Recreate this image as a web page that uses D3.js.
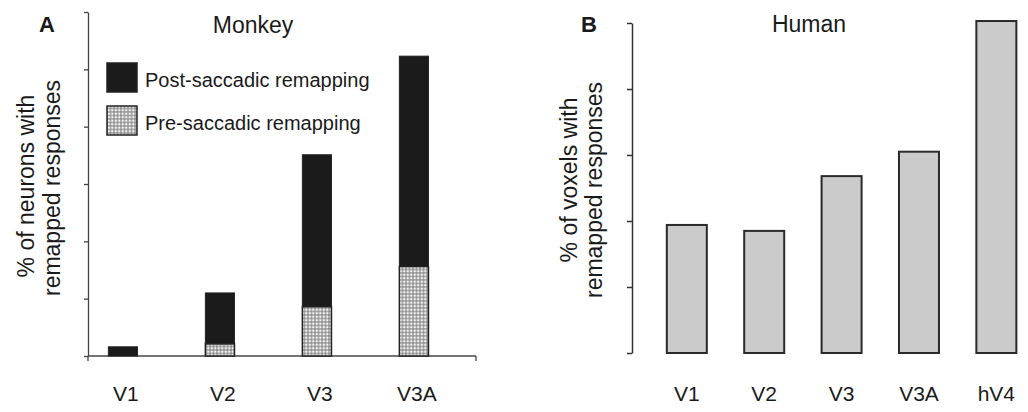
<!DOCTYPE html>
<html>
<head>
<meta charset="utf-8">
<script src="https://cdn.jsdelivr.net/npm/d3@7"></script>
<style>
  body { margin: 0; background: #fff; }
  text { font-family: "Liberation Sans", Arial, sans-serif; fill: #1a1a1a; }
</style>
</head>
<body>
<div id="chart"></div>
<script>
// panel A data (monkey), stacked
const monkeyAreas = ["V1", "V2", "V3", "V3A"];
const monkeyPre = [0, 2.1, 8.6, 15.6];
const monkeyPost = [1.6, 8.9, 26.5, 36.7];
const monkeyTicks = [0, 10, 20, 30, 40, 50, 60];
const legendLabels = ["Post-saccadic remapping", "Pre-saccadic remapping"];

// panel B data (human)
const humanAreas = ["V1", "V2", "V3", "V3A", "hV4"];
const humanValues = [19.4, 18.5, 26.8, 30.5, 50.3];
const humanTicks = [0, 10, 20, 30, 40, 50];

const svg = d3.select("#chart")
  .append("svg")
  .attr("width", 1028)
  .attr("height", 412);

// stipple pattern for the pre-saccadic part
const defs = svg.append("defs");
const pat = defs.append("pattern")
  .attr("id", "stipple")
  .attr("patternUnits", "userSpaceOnUse")
  .attr("width", 3.5)
  .attr("height", 3.5);
pat.append("rect").attr("width", 3.5).attr("height", 3.5).attr("fill", "#8f8f8f");
pat.append("circle").attr("cx", 1.75).attr("cy", 1.75).attr("r", 1.3).attr("fill", "#f2f2f2");

const axisColor = "#444";

// ---------- A: Monkey ----------
const yA = d3.scaleLinear().domain([0, 60]).range([356, 12]);
const xA = d3.scaleBand()
  .domain(monkeyAreas)
  .range([88, 476])
  .paddingInner(0.7)
  .paddingOuter(0.35)
  .align(0.3);

const gA = svg.append("g");

const axA = gA.append("g")
  .attr("transform", "translate(88,0)")
  .call(d3.axisLeft(yA).tickValues(monkeyTicks).tickFormat("").tickSize(4).tickSizeOuter(0));
axA.select(".domain").attr("stroke", axisColor).attr("stroke-width", 1.3);
axA.selectAll(".tick line").attr("stroke", axisColor).attr("stroke-width", 1.3);

// baseline with small end ticks
gA.append("line")
  .attr("x1", 88).attr("x2", 476)
  .attr("y1", yA(0)).attr("y2", yA(0))
  .attr("stroke", axisColor).attr("stroke-width", 1.5);
gA.append("line")
  .attr("x1", 88).attr("x2", 88)
  .attr("y1", yA(0)).attr("y2", yA(0) + 5)
  .attr("stroke", axisColor).attr("stroke-width", 1.3);
gA.append("line")
  .attr("x1", 476).attr("x2", 476)
  .attr("y1", yA(0)).attr("y2", yA(0) + 5)
  .attr("stroke", axisColor).attr("stroke-width", 1.3);

const xAxA = gA.append("g")
  .attr("transform", `translate(3,${yA(0)})`)
  .call(d3.axisBottom(xA).tickSize(0).tickPadding(30));
xAxA.select(".domain").remove();
xAxA.selectAll("text")
  .attr("font-size", "21px")
  .style("font-family", "'Liberation Sans', Arial, sans-serif")
  .attr("fill", "#1a1a1a");

monkeyAreas.forEach((area, i) => {
  const pre = monkeyPre[i];
  const post = monkeyPost[i];
  // post-saccadic (top, black)
  gA.append("rect")
    .attr("x", xA(area))
    .attr("y", yA(pre + post))
    .attr("width", xA.bandwidth())
    .attr("height", yA(pre) - yA(pre + post))
    .attr("fill", "#1b1b1b")
    .attr("stroke", "#222")
    .attr("stroke-width", 1);
  // pre-saccadic (bottom, stippled)
  if (pre > 0) {
    gA.append("rect")
      .attr("x", xA(area))
      .attr("y", yA(pre))
      .attr("width", xA.bandwidth())
      .attr("height", yA(0) - yA(pre))
      .attr("fill", "url(#stipple)")
      .attr("stroke", "#222")
      .attr("stroke-width", 1.5);
  }
});

// legend
const legend = gA.append("g").attr("transform", "translate(107,63)");
legendLabels.forEach((label, i) => {
  legend.append("rect")
    .attr("x", 0)
    .attr("y", i * 43)
    .attr("width", 30)
    .attr("height", 29)
    .attr("fill", i === 0 ? "#1b1b1b" : "url(#stipple)")
    .attr("stroke", "#222")
    .attr("stroke-width", 1.5);
  legend.append("text")
    .attr("x", 38)
    .attr("y", i * 43 + 24)
    .attr("font-size", "20px")
    .text(label);
});

gA.append("text")
  .attr("x", 39).attr("y", 32)
  .attr("font-size", "22px")
  .attr("font-weight", "bold")
  .text("A");

gA.append("text")
  .attr("x", 253).attr("y", 33)
  .attr("text-anchor", "middle")
  .attr("font-size", "23px")
  .text("Monkey");

gA.append("text")
  .attr("transform", "rotate(-90)")
  .attr("x", -186).attr("y", 34)
  .attr("text-anchor", "middle")
  .attr("font-size", "23px")
  .text("% of neurons with");
gA.append("text")
  .attr("transform", "rotate(-90)")
  .attr("x", -188).attr("y", 60)
  .attr("text-anchor", "middle")
  .attr("font-size", "23px")
  .text("remapped responses");

// ---------- B: Human ----------
const yB = d3.scaleLinear().domain([0, 50]).range([353, 23]);
const xB = d3.scaleBand()
  .domain(humanAreas)
  .range([632, 1032])
  .paddingInner(0.483)
  .paddingOuter(0.326)
  .align(0.69);

const gB = svg.append("g");

const axB = gB.append("g")
  .attr("transform", "translate(632,0)")
  .call(d3.axisLeft(yB).tickValues(humanTicks).tickFormat("").tickSize(5).tickSizeOuter(0));
axB.select(".domain").attr("stroke", "#333").attr("stroke-width", 1.5);
axB.selectAll(".tick line").attr("stroke", "#333").attr("stroke-width", 1.5);

const xAxB = gB.append("g")
  .attr("transform", `translate(0,${yB(0)})`)
  .call(d3.axisBottom(xB).tickSize(0).tickPadding(33));
xAxB.select(".domain").remove();
xAxB.selectAll("text")
  .attr("font-size", "21px")
  .style("font-family", "'Liberation Sans', Arial, sans-serif")
  .attr("fill", "#1a1a1a");

gB.selectAll("rect.bar")
  .data(humanAreas)
  .enter()
  .append("rect")
  .attr("class", "bar")
  .attr("x", d => xB(d))
  .attr("y", (d, i) => yB(humanValues[i]))
  .attr("width", xB.bandwidth())
  .attr("height", (d, i) => yB(0) - yB(humanValues[i]))
  .attr("fill", "#cbcbcb")
  .attr("stroke", "#2a2a2a")
  .attr("stroke-width", 2);

gB.append("text")
  .attr("x", 581).attr("y", 32)
  .attr("font-size", "22px")
  .attr("font-weight", "bold")
  .text("B");

gB.append("text")
  .attr("x", 809).attr("y", 32)
  .attr("text-anchor", "middle")
  .attr("font-size", "23px")
  .text("Human");

gB.append("text")
  .attr("transform", "rotate(-90)")
  .attr("x", -180).attr("y", 577)
  .attr("text-anchor", "middle")
  .attr("font-size", "23px")
  .text("% of voxels with");
gB.append("text")
  .attr("transform", "rotate(-90)")
  .attr("x", -190).attr("y", 602)
  .attr("text-anchor", "middle")
  .attr("font-size", "23px")
  .text("remapped responses");
</script>
</body>
</html>
